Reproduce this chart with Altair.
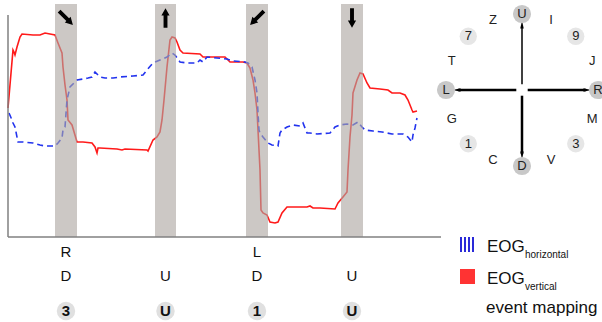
import altair as alt
import pandas as pd
import numpy as np

# ---- EOG traces (time in samples, amplitude in arbitrary units) ----
red_t = [0, 5, 6, 7, 9, 12, 14, 25, 32, 37, 42, 47, 50, 54, 55, 57, 59, 60, 64, 69, 75, 84, 87, 89, 90, 92,
         109, 114, 117, 139, 140, 145, 149, 152, 154, 156, 159, 162, 164, 167, 169, 172, 175, 192, 195, 205,
         217, 220, 222, 235, 239, 242, 245, 247, 249, 250, 252, 253, 255, 259, 262, 267, 270, 274, 279, 292,
         299, 302, 305, 312, 327, 330, 335, 339, 340, 342, 344, 345, 349, 352, 355, 359, 362, 372, 380, 384,
         392, 397, 400, 404, 405, 409]
red_v = [129, 187, 185, 182, 190, 200, 203, 202, 202, 204, 203, 202, 194, 184, 170, 152, 137, 117, 112, 95,
         95, 94, 90, 84, 89, 89, 88, 87, 88, 87, 86, 97, 100, 105, 117, 137, 170, 197, 200, 199, 195, 187,
         184, 183, 180, 180, 180, 177, 175, 175, 174, 169, 157, 144, 127, 107, 67, 27, 24, 22, 15, 14, 15, 24,
         30, 30, 30, 31, 29, 29, 28, 34, 40, 45, 67, 100, 122, 144, 157, 164, 163, 154, 149, 148, 147, 144,
         144, 142, 137, 127, 125, 126]

blue_t = [1, 4, 5, 7, 10, 15, 25, 32, 37, 47, 50, 54, 55, 57, 59, 62, 69, 75, 80, 84, 87, 92, 97, 105, 112,
          125, 135, 139, 145, 152, 159, 164, 167, 172, 179, 189, 192, 195, 199, 209, 219, 225, 237, 240, 244,
          247, 249, 250, 251, 252, 255, 260, 264, 270, 272, 274, 279, 285, 292, 295, 299, 302, 309, 322, 327,
          332, 339, 345, 350, 354, 357, 365, 374, 379, 384, 395, 400, 404, 405, 407, 409]
blue_v = [124, 117, 114, 110, 95, 95, 94, 92, 91, 91, 94, 99, 107, 110, 137, 150, 157, 158, 159, 160, 165,
          160, 159, 159, 160, 161, 162, 167, 174, 177, 180, 184, 182, 175, 174, 174, 177, 175, 180, 179, 178,
          176, 175, 174, 170, 157, 144, 124, 107, 104, 100, 94, 92, 91, 104, 107, 110, 112, 111, 114, 104,
          104, 103, 104, 110, 112, 113, 112, 115, 110, 107, 106, 105, 104, 103, 103, 100, 95, 102, 109, 119]

# ---- eye-movement events ----
ev_start = [47, 147, 238, 333]
ev_end = [69, 168, 260, 355]
ev_horiz = ["R", "", "L", ""]
ev_vert = ["D", "U", "D", "U"]
ev_map = ["3", "U", "1", "U"]
ev_dir = [135, 0, 225, 180]

# ---- compass (event mapping alphabet), counter-clockwise from right ----
compass_labels = ["R", "J", "9", "I", "U", "Z", "7", "T", "L", "G", "1", "C", "D", "V", "3", "M"]
compass_kind = ["dir", "txt", "num", "txt", "dir", "txt", "num", "txt",
                "dir", "txt", "num", "txt", "dir", "txt", "num", "txt"]
arrow_dirs = ["R", "U", "L", "D"]
arrow_angle = [0, 90, 180, 270]
arrow_width = [2.5, 1.5, 2.5, 2.5]

FONT = "Liberation Sans"

red = pd.DataFrame({"t": red_t, "v": red_v})
blue = pd.DataFrame({"t": blue_t, "v": blue_v})
ev = pd.DataFrame({"start": ev_start, "end": ev_end, "h": ev_horiz, "vv": ev_vert,
                   "m": ev_map, "dir": ev_dir})
ev["mid"] = (ev["start"] + ev["end"]) / 2

xs = alt.Scale(domain=[0, 432], range=[8, 440])
ys = alt.Scale(domain=[0, 233], range=[237, 4])

one = pd.DataFrame({"a": [0]})

red_line = alt.Chart(red).mark_line(color="#ff1a1a", strokeWidth=1.6).encode(
    x=alt.X("t:Q", scale=xs, axis=None), y=alt.Y("v:Q", scale=ys, axis=None), order="t:Q")
blue_line = alt.Chart(blue).mark_line(color="#2233ee", strokeWidth=1.6, strokeDash=[6, 4]).encode(
    x=alt.X("t:Q", scale=xs, axis=None), y=alt.Y("v:Q", scale=ys, axis=None), order="t:Q")

bands = alt.Chart(ev).mark_rect(color="#aca6a1", opacity=0.62).encode(
    x=alt.X("start:Q", scale=xs, axis=None), x2="end:Q", y=alt.value(4), y2=alt.value(237))

arrow_path = "M0,-1 L0.42,-0.25 L0.2,-0.25 L0.2,1 L-0.2,1 L-0.2,-0.25 L-0.42,-0.25 Z"
arrows = alt.Chart(ev).mark_point(shape=arrow_path, filled=True, color="black", opacity=1, size=380).encode(
    x=alt.X("mid:Q", scale=xs, axis=None), y=alt.value(18), angle=alt.Angle("dir:Q", scale=None))

lab_h = alt.Chart(ev).mark_text(font=FONT, fontSize=15, color="#111").encode(
    x=alt.X("mid:Q", scale=xs, axis=None), y=alt.value(252), text="h:N")
lab_v = alt.Chart(ev).mark_text(font=FONT, fontSize=15, color="#111").encode(
    x=alt.X("mid:Q", scale=xs, axis=None), y=alt.value(276), text="vv:N")
map_c = alt.Chart(ev).mark_circle(color="#e0e0e0", opacity=1, size=340).encode(
    x=alt.X("mid:Q", scale=xs, axis=None), y=alt.value(311))
map_t = alt.Chart(ev).mark_text(font=FONT, fontSize=15, fontWeight="bold", color="#111").encode(
    x=alt.X("mid:Q", scale=xs, axis=None), y=alt.value(311), text="m:N")

x_axis = alt.Chart(one).mark_rule(color="#808080", strokeWidth=1.5).encode(
    x=alt.value(8), x2=alt.value(441), y=alt.value(237))
y_axis = alt.Chart(one).mark_rule(color="#808080", strokeWidth=1.5).encode(
    x=alt.value(8), y=alt.value(15), y2=alt.value(237))

main = alt.layer(red_line, blue_line, bands, arrows, x_axis, y_axis, lab_h, lab_v, map_c, map_t)

# ---- compass ----
ang = np.arange(len(compass_labels)) * np.pi / 8
comp = pd.DataFrame({"lab": compass_labels, "kind": compass_kind,
                     "cx": np.cos(ang), "cy": np.sin(ang)})
cxs = alt.Scale(domain=[-1, 1], range=[446, 598])
cys = alt.Scale(domain=[-1, 1], range=[166, 14])

arr_rad = np.deg2rad(arrow_angle)
arr = pd.DataFrame({"d": arrow_dirs, "w": arrow_width,
                    "x0": 0.075 * np.cos(arr_rad), "y0": 0.075 * np.sin(arr_rad),
                    "x1": 0.84 * np.cos(arr_rad), "y1": 0.84 * np.sin(arr_rad),
                    "hx": 0.86 * np.cos(arr_rad), "hy": 0.86 * np.sin(arr_rad),
                    "rot": [(90 - a) % 360 for a in arrow_angle]})

comp_rules = alt.Chart(arr).mark_rule(color="black").encode(
    x=alt.X("x0:Q", scale=cxs, axis=None), y=alt.Y("y0:Q", scale=cys, axis=None),
    x2="x1:Q", y2="y1:Q", strokeWidth=alt.StrokeWidth("w:Q", scale=None))
head_path = "M0,-1 L0.45,1 L-0.45,1 Z"
comp_heads = alt.Chart(arr).mark_point(shape=head_path, filled=True, color="black", opacity=1, size=60).encode(
    x=alt.X("hx:Q", scale=cxs, axis=None), y=alt.Y("hy:Q", scale=cys, axis=None),
    angle=alt.Angle("rot:Q", scale=None))
comp_circ_dir = alt.Chart(comp).transform_filter("datum.kind == 'dir'").mark_circle(
    color="#c8c8c8", opacity=1, size=330).encode(
    x=alt.X("cx:Q", scale=cxs, axis=None), y=alt.Y("cy:Q", scale=cys, axis=None))
comp_circ_num = alt.Chart(comp).transform_filter("datum.kind == 'num'").mark_circle(
    color="#e6e6e6", opacity=1, size=300).encode(
    x=alt.X("cx:Q", scale=cxs, axis=None), y=alt.Y("cy:Q", scale=cys, axis=None))
comp_text = alt.Chart(comp).mark_text(font=FONT, fontSize=13, color="#222").encode(
    x=alt.X("cx:Q", scale=cxs, axis=None), y=alt.Y("cy:Q", scale=cys, axis=None), text="lab:N")

compass = alt.layer(comp_rules, comp_heads, comp_circ_dir, comp_circ_num, comp_text)

# ---- legend ----
bars = pd.DataFrame({"i": [0, 1, 2, 3]})
leg_blue = alt.Chart(bars).transform_calculate(bx="461 + 4 * datum.i").mark_rule(
    color="#2a2ad8", strokeWidth=2).encode(
    x=alt.X("bx:Q", scale=None), y=alt.value(237), y2=alt.value(252))
leg_red = alt.Chart(one).mark_rect(color="#ff3333").encode(
    x=alt.value(460), x2=alt.value(475), y=alt.value(269), y2=alt.value(284))

def txt(s, x, y, size):
    return alt.Chart(one).mark_text(font=FONT, fontSize=size, color="#111", align="left",
                                    baseline="alphabetic").encode(
        x=alt.value(x), y=alt.value(y), text=alt.value(s))

legend = alt.layer(leg_blue, leg_red,
                   txt("EOG", 487, 252, 17), txt("horizontal", 525, 258, 10),
                   txt("EOG", 487, 284, 17), txt("vertical", 525, 290, 10),
                   txt("event mapping", 486, 313, 17))

chart = alt.layer(main, compass, legend).resolve_scale(
    x="independent", y="independent").properties(
    width=602, height=322, padding=0, autosize=alt.AutoSizeParams(type="none")
).configure_view(stroke=None)

chart.save("out.html", embed_options={"renderer": "svg", "actions": False})
